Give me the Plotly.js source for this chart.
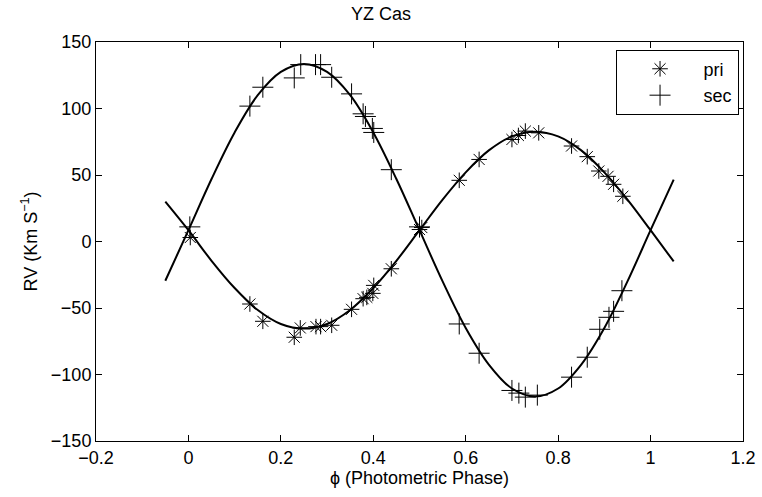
<!DOCTYPE html>
<html>
<head>
<meta charset="utf-8">
<script src="https://cdn.plot.ly/plotly-3.0.1.min.js"></script>
<style>html,body{margin:0;padding:0;background:#fff}#chart{width:762px;height:497px}</style>
</head>
<body>
<div id="chart"></div>
<script>
// Observed primary radial velocities
const priPhase = [0.004, 0.133, 0.161, 0.229, 0.242, 0.276, 0.286, 0.310, 0.353, 0.378, 0.386, 0.399, 0.401, 0.439, 0.500, 0.505, 0.586, 0.629, 0.700, 0.714, 0.729, 0.758, 0.829, 0.863, 0.888, 0.908, 0.920, 0.940];
const priRV    = [3, -47, -60, -72, -65, -64, -64, -63, -51, -43, -42, -39, -33, -20.5, 9, 10.5, 46, 61.7, 76.7, 79.7, 83, 81.7, 71.8, 63.8, 53, 49, 43, 34];
// Observed secondary radial velocities
const secPhase = [0.003, 0.133, 0.161, 0.229, 0.243, 0.275, 0.286, 0.310, 0.353, 0.378, 0.383, 0.398, 0.401, 0.439, 0.500, 0.586, 0.629, 0.700, 0.715, 0.729, 0.755, 0.829, 0.863, 0.890, 0.910, 0.920, 0.938];
const secRV    = [11, 101.8, 116, 123, 133, 133, 133, 123.5, 111, 96, 94, 85, 82, 54, 11, -62, -84, -112, -114, -117, -115.5, -102, -87, -66, -57, -52.5, -37];
// Fitted curves
const curvePhase = [-0.05, 0, 0.05, 0.1, 0.15, 0.2, 0.25, 0.3, 0.35, 0.4, 0.45, 0.5, 0.55, 0.6, 0.65, 0.7, 0.75, 0.8, 0.85, 0.9, 0.95, 1.0, 1.05];
const priCurve   = [30, 8.5, -14.5, -35, -51.5, -62, -65.5, -62, -51.5, -35, -14.5, 8.5, 31.5, 52, 68.5, 79, 82.5, 79, 68.5, 52, 31.5, 8.5, -15];
const secCurve   = [-29.5, 8.5, 47, 82, 110, 127.5, 133.5, 127.5, 110, 82, 47, 8.5, -30, -65, -92.5, -110.5, -116.5, -110.5, -92.5, -65, -30, 8.5, 46.5];
const xTicks = [-0.2, 0, 0.2, 0.4, 0.6, 0.8, 1, 1.2];
const yTicks = [-150, -100, -50, 0, 50, 100, 150];

const FONT = 'Liberation Sans, Arial, Helvetica, sans-serif';
const FS = 18;
const traces = [
  {x: curvePhase, y: priCurve, mode: 'lines', line: {color: '#000', width: 2, shape: 'spline'}, showlegend: false, hoverinfo: 'skip'},
  {x: curvePhase, y: secCurve, mode: 'lines', line: {color: '#000', width: 2, shape: 'spline'}, showlegend: false, hoverinfo: 'skip'},
  {x: priPhase, y: priRV, mode: 'markers', name: 'pri',
   marker: {symbol: 'asterisk-open', size: 13, color: '#000', line: {color: '#000', width: 1}}},
  {x: secPhase, y: secRV, mode: 'markers', name: 'sec',
   marker: {symbol: 'cross-thin-open', size: 15, color: '#000', line: {color: '#000', width: 1}}}
];
const axisCommon = {
  showgrid: false, zeroline: false, showline: true, linecolor: '#000', linewidth: 1,
  mirror: 'ticks', ticks: 'inside', ticklen: 6, tickcolor: '#000', tickwidth: 1,
  tickfont: {family: FONT, size: FS, color: '#000'}
};
const layout = {
  width: 762, height: 497,
  margin: {l: 96, r: 19, t: 42, b: 56},
  paper_bgcolor: '#fff', plot_bgcolor: '#fff',
  font: {family: FONT, size: FS, color: '#000'},
  title: {text: 'YZ Cas', x: 0.5, xanchor: 'center', y: 0.972, yanchor: 'middle', font: {family: FONT, size: FS, color: '#000'}},
  xaxis: Object.assign({}, axisCommon, {range: [-0.2, 1.2], tickvals: xTicks, ticktext: xTicks.map(v => (v < 0 ? '\u2212' + Math.abs(v) : String(v))),
    title: {text: '\u03d5 (Photometric Phase)', standoff: 2, font: {family: FONT, size: FS, color: '#000'}}}),
  yaxis: Object.assign({}, axisCommon, {range: [-150, 150], tickvals: yTicks, ticktext: yTicks.map(v => (v < 0 ? '\u2212' + Math.abs(v) : String(v))),
    title: {text: 'RV (Km S<sup>\u22121</sup>)', standoff: 8, font: {family: FONT, size: FS, color: '#000'}}}),
  legend: {x: 0.803, y: 0.981, xanchor: 'left', yanchor: 'top', bordercolor: '#000', borderwidth: 1,
    bgcolor: '#fff', itemwidth: 77, font: {family: FONT, size: FS, color: '#000'}},
  showlegend: true
};
Plotly.newPlot('chart', traces, layout, {displayModeBar: false, staticPlot: true});
</script>
</body>
</html>
